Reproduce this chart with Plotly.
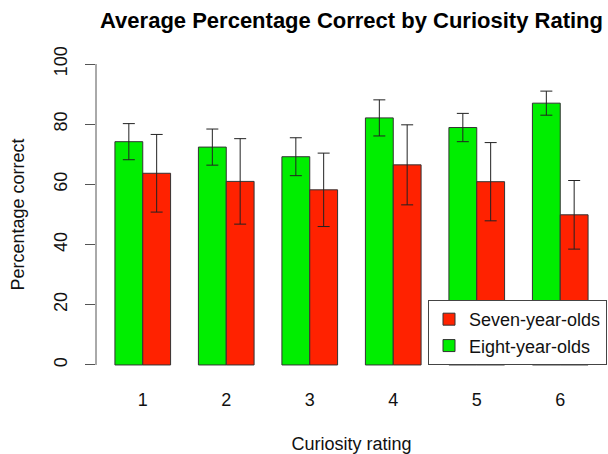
import plotly.graph_objects as go

ratings = [1, 2, 3, 4, 5, 6]
eight_mean = [74.2, 72.4, 69.2, 82.1, 78.9, 87.0]
eight_err = [6.0, 6.0, 6.3, 6.0, 4.7, 4.0]
seven_mean = [63.7, 61.0, 58.2, 66.5, 60.9, 49.9]
seven_err = [12.9, 14.2, 12.2, 13.3, 13.0, 11.4]
y_ticks = [0, 20, 40, 60, 80, 100]

FONT = "Liberation Sans, Arial, Helvetica, sans-serif"
GREEN = "#00ee00"
RED = "#ff2200"

fig = go.Figure()
fig.add_trace(go.Bar(
    x=ratings, y=eight_mean, name="Eight-year-olds",
    marker=dict(color=GREEN, line=dict(color="#333333", width=1)),
    error_y=dict(type="data", array=eight_err, color="#222222", thickness=1, width=6),
))
fig.add_trace(go.Bar(
    x=ratings, y=seven_mean, name="Seven-year-olds",
    marker=dict(color=RED, line=dict(color="#333333", width=1)),
    error_y=dict(type="data", array=seven_err, color="#222222", thickness=1, width=6),
))

fig.update_layout(
    width=608, height=454,
    margin=dict(l=96, r=1, t=52, b=77),
    paper_bgcolor="white", plot_bgcolor="white",
    barmode="group", bargap=1/3, bargroupgap=0,
    font=dict(family=FONT, size=18, color="#111111"),
    title=dict(text="<b>Average Percentage Correct by Curiosity Rating</b>",
               font=dict(family=FONT, size=22, color="#000000"),
               x=0.5, xref="paper", xanchor="center",
               y=1 - 20/454, yref="container", yanchor="middle"),
    showlegend=True,
    legend=dict(x=1, y=0.037, xanchor="right", yanchor="bottom",
                traceorder="reversed", bgcolor="white",
                bordercolor="#444444", borderwidth=1,
                font=dict(family=FONT, size=18, color="#111111")),
    xaxis=dict(range=[0.44, 6.56], tickvals=ratings, ticktext=[str(r) for r in ratings],
               showgrid=False, zeroline=False, showline=False, ticks="",
               ticklabelstandoff=10,
               title=dict(text="Curiosity rating", standoff=28,
                          font=dict(family=FONT, size=18))),
    yaxis=dict(range=[-4, 104], tickvals=y_ticks, showgrid=False, zeroline=False,
               showline=False, ticks="outside", ticklen=10, tickcolor="#555555",
               tickangle=-90, ticklabelstandoff=11,
               title=dict(text="Percentage correct", standoff=21,
                          font=dict(family=FONT, size=18))),
)

fig.add_shape(type="line", xref="paper", yref="y", x0=0, x1=0,
              y0=y_ticks[0], y1=y_ticks[-1], line=dict(color="#555555", width=1))

fig.write_html("out.html", config={"displayModeBar": False},
               post_script="document.body.style.margin='0';document.body.style.overflow='hidden';")
